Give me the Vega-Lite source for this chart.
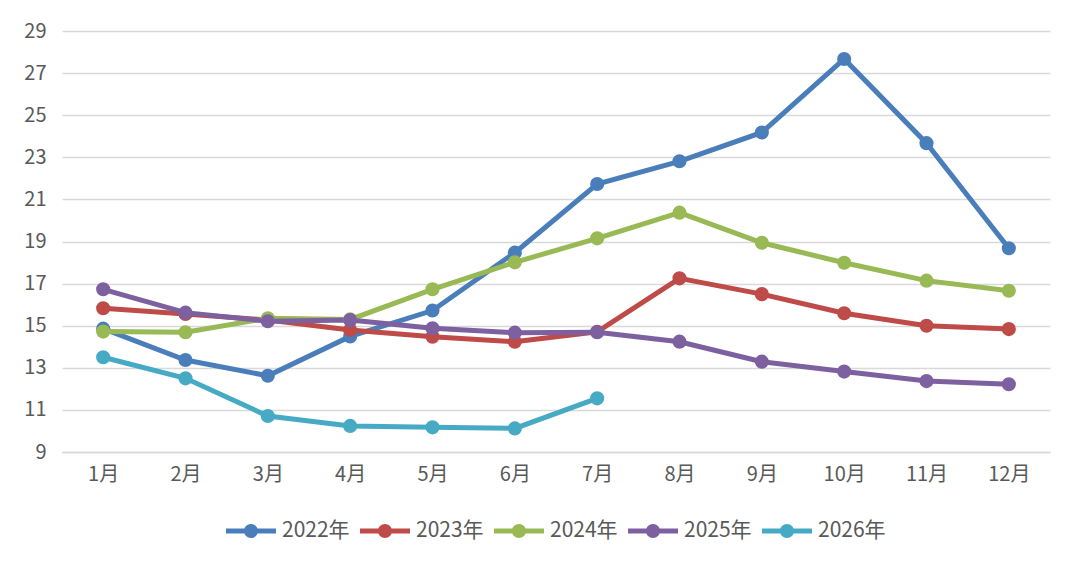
{
  "$schema": "https://vega.github.io/schema/vega-lite/v6.json",
  "width": 988,
  "height": 421,
  "autosize": "none",
  "padding": {"left": 62, "top": 31, "right": 30, "bottom": 117},
  "background": "white",
  "data": {
    "values": [
      {"month": "1月", "year": "2022年", "value": 14.86},
      {"month": "2月", "year": "2022年", "value": 13.37},
      {"month": "3月", "year": "2022年", "value": 12.62},
      {"month": "4月", "year": "2022年", "value": 14.49},
      {"month": "5月", "year": "2022年", "value": 15.72},
      {"month": "6月", "year": "2022年", "value": 18.47},
      {"month": "7月", "year": "2022年", "value": 21.73},
      {"month": "8月", "year": "2022年", "value": 22.81},
      {"month": "9月", "year": "2022年", "value": 24.18},
      {"month": "10月", "year": "2022年", "value": 27.67},
      {"month": "11月", "year": "2022年", "value": 23.67},
      {"month": "12月", "year": "2022年", "value": 18.68},
      {"month": "1月", "year": "2023年", "value": 15.83},
      {"month": "2月", "year": "2023年", "value": 15.56},
      {"month": "3月", "year": "2023年", "value": 15.27},
      {"month": "4月", "year": "2023年", "value": 14.8},
      {"month": "5月", "year": "2023年", "value": 14.48},
      {"month": "6月", "year": "2023年", "value": 14.24},
      {"month": "7月", "year": "2023年", "value": 14.71},
      {"month": "8月", "year": "2023年", "value": 17.25},
      {"month": "9月", "year": "2023年", "value": 16.5},
      {"month": "10月", "year": "2023年", "value": 15.59},
      {"month": "11月", "year": "2023年", "value": 15.0},
      {"month": "12月", "year": "2023年", "value": 14.84},
      {"month": "1月", "year": "2024年", "value": 14.72},
      {"month": "2月", "year": "2024年", "value": 14.69},
      {"month": "3月", "year": "2024年", "value": 15.35},
      {"month": "4月", "year": "2024年", "value": 15.3},
      {"month": "5月", "year": "2024年", "value": 16.73},
      {"month": "6月", "year": "2024年", "value": 18.01},
      {"month": "7月", "year": "2024年", "value": 19.15},
      {"month": "8月", "year": "2024年", "value": 20.37},
      {"month": "9月", "year": "2024年", "value": 18.94},
      {"month": "10月", "year": "2024年", "value": 17.99},
      {"month": "11月", "year": "2024年", "value": 17.14},
      {"month": "12月", "year": "2024年", "value": 16.66},
      {"month": "1月", "year": "2025年", "value": 16.73},
      {"month": "2月", "year": "2025年", "value": 15.62},
      {"month": "3月", "year": "2025年", "value": 15.21},
      {"month": "4月", "year": "2025年", "value": 15.27},
      {"month": "5月", "year": "2025年", "value": 14.88},
      {"month": "6月", "year": "2025年", "value": 14.67},
      {"month": "7月", "year": "2025年", "value": 14.69},
      {"month": "8月", "year": "2025年", "value": 14.24},
      {"month": "9月", "year": "2025年", "value": 13.29},
      {"month": "10月", "year": "2025年", "value": 12.82},
      {"month": "11月", "year": "2025年", "value": 12.37},
      {"month": "12月", "year": "2025年", "value": 12.22},
      {"month": "1月", "year": "2026年", "value": 13.5},
      {"month": "2月", "year": "2026年", "value": 12.5},
      {"month": "3月", "year": "2026年", "value": 10.71},
      {"month": "4月", "year": "2026年", "value": 10.24},
      {"month": "5月", "year": "2026年", "value": 10.17},
      {"month": "6月", "year": "2026年", "value": 10.12},
      {"month": "7月", "year": "2026年", "value": 11.55}
    ]
  },
  "mark": {
    "type": "line",
    "strokeWidth": 5,
    "point": {"filled": true, "size": 200}
  },
  "encoding": {
    "x": {
      "field": "month",
      "type": "ordinal",
      "sort": null,
      "scale": {"padding": 0.5},
      "axis": {
        "title": null,
        "labelAngle": 0,
        "labelFont": "Noto Sans CJK SC",
        "labelFontSize": 20,
        "labelColor": "#595959",
        "labelPadding": 12,
        "ticks": false,
        "domainColor": "#d9d9d9",
        "domainWidth": 1.5,
        "grid": false
      }
    },
    "y": {
      "field": "value",
      "type": "quantitative",
      "scale": {"domain": [9, 29], "nice": false, "zero": false},
      "axis": {
        "title": null,
        "values": [9, 11, 13, 15, 17, 19, 21, 23, 25, 27, 29],
        "labelFont": "Noto Sans CJK SC",
        "labelFontSize": 20,
        "labelColor": "#595959",
        "labelPadding": 16,
        "ticks": false,
        "domain": false,
        "grid": true,
        "gridColor": "#d9d9d9",
        "gridWidth": 1.5
      }
    },
    "color": {
      "field": "year",
      "type": "nominal",
      "scale": {
        "domain": ["2022年", "2023年", "2024年", "2025年", "2026年"],
        "range": ["#4a7ebb", "#be4b48", "#98b954", "#7d60a0", "#46aac5"]
      },
      "legend": {
        "title": null,
        "orient": "bottom",
        "direction": "horizontal",
        "offset": 22,
        "labelFont": "Noto Sans CJK SC",
        "labelFontSize": 21,
        "labelColor": "#595959",
        "symbolType": "M-1,-0.1H1V0.1H-1Z M-0.28,0A0.28,0.28 0 1,1 0.28,0A0.28,0.28 0 1,1 -0.28,0Z",
        "symbolSize": 2500,
        "symbolStrokeWidth": 0,
        "columnPadding": 10,
        "labelOffset": 6,
        "encode": {
          "symbols": {
            "update": {
              "fill": {"scale": "color", "field": "value"},
              "strokeWidth": {"value": 0}
            }
          }
        }
      }
    }
  },
  "config": {
    "view": {"stroke": null},
    "legend": {"layout": {"bottom": {"anchor": "middle"}}}
  }
}
